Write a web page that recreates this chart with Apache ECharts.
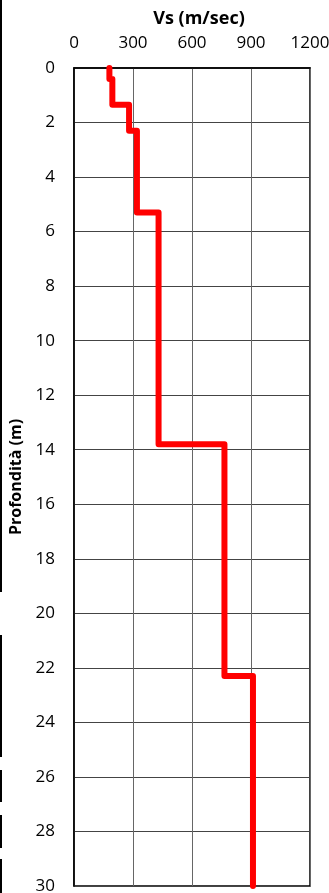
<!DOCTYPE html>
<html>
<head>
<meta charset="utf-8">
<style>
  html, body { margin: 0; padding: 0; background: #fff; }
  #chart { width: 329px; height: 893px; }
</style>
<script src="https://cdn.jsdelivr.net/npm/echarts@6/dist/echarts.min.js"></script>
</head>
<body>
<div id="chart"></div>
<script>
// Shear-wave velocity profile: one entry per layer
const layerTop    = [0, 0.4, 1.35, 2.3, 5.3, 13.8, 22.3];
const layerBottom = [0.4, 1.35, 2.3, 5.3, 13.8, 22.3, 30];
const layerVs     = [180, 195, 280, 320, 430, 765, 910];

const vsTicks    = [0, 300, 600, 900, 1200];
const depthTicks = [0, 2, 4, 6, 8, 10, 12, 14, 16, 18, 20, 22, 24, 26, 28, 30];

// Step outline: each layer contributes its top and bottom point at constant Vs
const profile = [];
layerVs.forEach((v, i) => {
  profile.push([v, layerTop[i]]);
  profile.push([v, layerBottom[i]]);
});

const FONT = '"Open Sans", "Liberation Sans", sans-serif';
const chart = echarts.init(document.getElementById('chart'), null, { renderer: 'canvas' });

// Partial frame segments along the left edge of the page
const edgeSegments = [[0, 592], [635, 757], [770, 802], [815, 848], [859, 893]];

chart.setOption({
  animation: false,
  backgroundColor: '#fff',
  grid: {
    left: 74, right: 19, top: 68, bottom: 7,
    outerBoundsMode: 'none',
    containLabel: false,
    show: true, borderColor: '#000', borderWidth: 1.5, backgroundColor: 'transparent'
  },
  xAxis: {
    type: 'value',
    position: 'top',
    min: vsTicks[0], max: vsTicks[vsTicks.length - 1], interval: 300,
    name: 'Vs (m/sec)',
    nameLocation: 'middle',
    nameGap: 40,
    nameTextStyle: { fontFamily: FONT, fontWeight: 'bold', fontSize: 18, color: '#000', padding: [0, 0, 0, 14] },
    axisLine: { show: true, lineStyle: { color: '#000', width: 1.5 } },
    axisTick: { show: false },
    axisLabel: { margin: 16, fontFamily: FONT, fontSize: 17, color: '#000', formatter: v => String(v) },
    splitLine: { show: true, lineStyle: { color: '#666', width: 1 } }
  },
  yAxis: {
    type: 'value',
    inverse: true,
    min: depthTicks[0], max: depthTicks[depthTicks.length - 1], interval: 2,
    name: 'Profondità (m)',
    nameLocation: 'middle',
    nameGap: 44,
    nameRotate: 90,
    nameTextStyle: { fontFamily: FONT, fontWeight: 'bold', fontSize: 16, color: '#000' },
    axisLine: { show: true, lineStyle: { color: '#000', width: 1.5 } },
    axisTick: { show: false },
    axisLabel: { margin: 19, fontFamily: FONT, fontSize: 17, color: '#000', formatter: v => String(v) },
    splitLine: { show: true, lineStyle: { color: '#444', width: 1 } }
  },
  series: [{
    type: 'line',
    data: profile,
    showSymbol: false,
    symbol: 'none',
    clip: false,
    lineStyle: { color: '#ff0000', width: 6, cap: 'round', join: 'round' },
    z: 5
  }],
  graphic: edgeSegments.map(s => ({
    type: 'line',
    shape: { x1: 1, y1: s[0], x2: 1, y2: s[1] },
    style: { stroke: '#000', lineWidth: 2 }
  }))
});
</script>
</body>
</html>
